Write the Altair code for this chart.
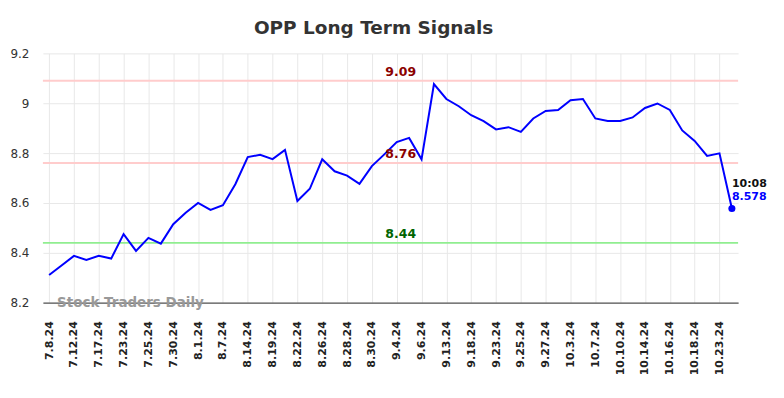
import altair as alt
import pandas as pd

dates = ["7.8.24", "7.10.24", "7.12.24", "7.15.24", "7.17.24", "7.19.24", "7.23.24", "7.24.24",
         "7.25.24", "7.26.24", "7.30.24", "7.31.24", "8.1.24", "8.5.24", "8.7.24", "8.12.24",
         "8.14.24", "8.16.24", "8.19.24", "8.20.24", "8.22.24", "8.23.24", "8.26.24", "8.27.24",
         "8.28.24", "8.29.24", "8.30.24", "9.3.24", "9.4.24", "9.5.24", "9.6.24", "9.12.24",
         "9.13.24", "9.16.24", "9.18.24", "9.20.24", "9.23.24", "9.24.24", "9.25.24", "9.26.24",
         "9.27.24", "10.1.24", "10.3.24", "10.4.24", "10.7.24", "10.9.24", "10.10.24", "10.11.24",
         "10.14.24", "10.15.24", "10.16.24", "10.17.24", "10.18.24", "10.21.24", "10.23.24", "10.24.24"]
prices = [8.311, 8.349, 8.388, 8.372, 8.388, 8.377, 8.475, 8.408, 8.460, 8.437,
          8.515, 8.561, 8.600, 8.572, 8.591, 8.675, 8.784, 8.793, 8.776, 8.813,
          8.608, 8.657, 8.775, 8.727, 8.710, 8.677, 8.748, 8.795, 8.844, 8.861,
          8.775, 9.077, 9.017, 8.988, 8.952, 8.928, 8.895, 8.904, 8.885, 8.939,
          8.969, 8.973, 9.012, 9.017, 8.939, 8.929, 8.929, 8.943, 8.981, 8.999,
          8.973, 8.891, 8.849, 8.789, 8.799, 8.578]
tick_labels = dates[0:55:2]

levels = [9.09, 8.76, 8.44]
level_labels = ["9.09", "8.76", "8.44"]
level_line_colors = ["#ffcccc", "#ffcccc", "#90ee90"]
level_text_colors = ["#8b0000", "#8b0000", "#006400"]

last_time = "10:08"
last_price = 8.578
watermark = "Stock Traders Daily"

df = pd.DataFrame({"date": dates, "price": prices})
lv = pd.DataFrame({"level": levels, "label": level_labels,
                   "lc": level_line_colors, "tc": level_text_colors})
last = pd.DataFrame({"date": [dates[-1]], "price": [last_price],
                     "time": [last_time], "plabel": [f"{last_price}"]})

xscale = alt.Scale(type="point", domain=dates, padding=0.5)
yscale = alt.Scale(domain=[8.2, 9.2])

x_enc = alt.X("date:O", scale=xscale, sort=None,
              axis=alt.Axis(values=tick_labels, labelAngle=-90, title=None,
                            ticks=False, labelPadding=18, labelFont="DejaVu Sans",
                            labelFontSize=11, labelFontWeight="bold", labelColor="#222",
                            domainColor="#555", domainWidth=1.2,
                            grid=True, gridColor="#e8e8e8", labelBaseline="middle"))
y_enc = alt.Y("price:Q", scale=yscale,
              axis=alt.Axis(values=[8.2, 8.4, 8.6, 8.8, 9.0, 9.2], title=None,
                            domain=False, ticks=False, labelPadding=14,
                            labelFont="DejaVu Sans", labelFontSize=12, labelColor="#333",
                            gridColor="#e8e8e8", labelExpr="format(datum.value, '.1~f')"))

base_line = alt.Chart(df).mark_line(color="#0000ff", strokeWidth=2).encode(x=x_enc, y=y_enc)

rules = alt.Chart(lv).mark_rule(strokeWidth=2).encode(
    y=alt.Y("level:Q", scale=yscale),
    color=alt.Color("lc:N", scale=None))

rule_text = alt.Chart(lv).mark_text(fontWeight="bold", fontSize=12.5, font="DejaVu Sans",
                                    baseline="bottom", dy=-2, dx=4).encode(
    x=alt.datum("9.4.24", scale=xscale),
    y=alt.Y("level:Q", scale=yscale),
    text="label:N",
    color=alt.Color("tc:N", scale=None))

pt = alt.Chart(last).mark_circle(size=50, color="#0000ff", opacity=1).encode(
    x=alt.X("date:O", scale=xscale, sort=None), y=alt.Y("price:Q", scale=yscale))

t_time = alt.Chart(last).mark_text(fontWeight="bold", fontSize=11, font="DejaVu Sans",
                                   align="left", dy=-24.5, color="#111").encode(
    x=alt.X("date:O", scale=xscale, sort=None), y=alt.Y("price:Q", scale=yscale), text="time:N")
t_price = alt.Chart(last).mark_text(fontWeight="bold", fontSize=11, font="DejaVu Sans",
                                    align="left", dy=-11, color="#0000ff").encode(
    x=alt.X("date:O", scale=xscale, sort=None), y=alt.Y("price:Q", scale=yscale), text="plabel:N")

wm = alt.Chart(pd.DataFrame({"t": [watermark]})).mark_text(
    fontWeight="bold", fontSize=13.5, font="DejaVu Sans", align="left", baseline="middle",
    color="#999999", dx=8, dy=0).encode(
    x=alt.datum(dates[0], scale=xscale), y=alt.datum(8.2, scale=yscale), text="t:N")

chart = alt.layer(rules, base_line, rule_text, pt, t_time, t_price, wm).properties(
    width=697, height=250,
    autosize=alt.AutoSizeParams(type="none"),
    padding={"left": 35, "top": 45, "right": 38, "bottom": 80},
    title=alt.TitleParams("OPP Long Term Signals", fontSize=18.5, font="DejaVu Sans",
                          fontWeight="bold", color="#333", anchor="middle", dx=-17, offset=10)
).configure_view(stroke=None)

chart.save("out.html", embed_options={"renderer": "svg", "actions": False})
